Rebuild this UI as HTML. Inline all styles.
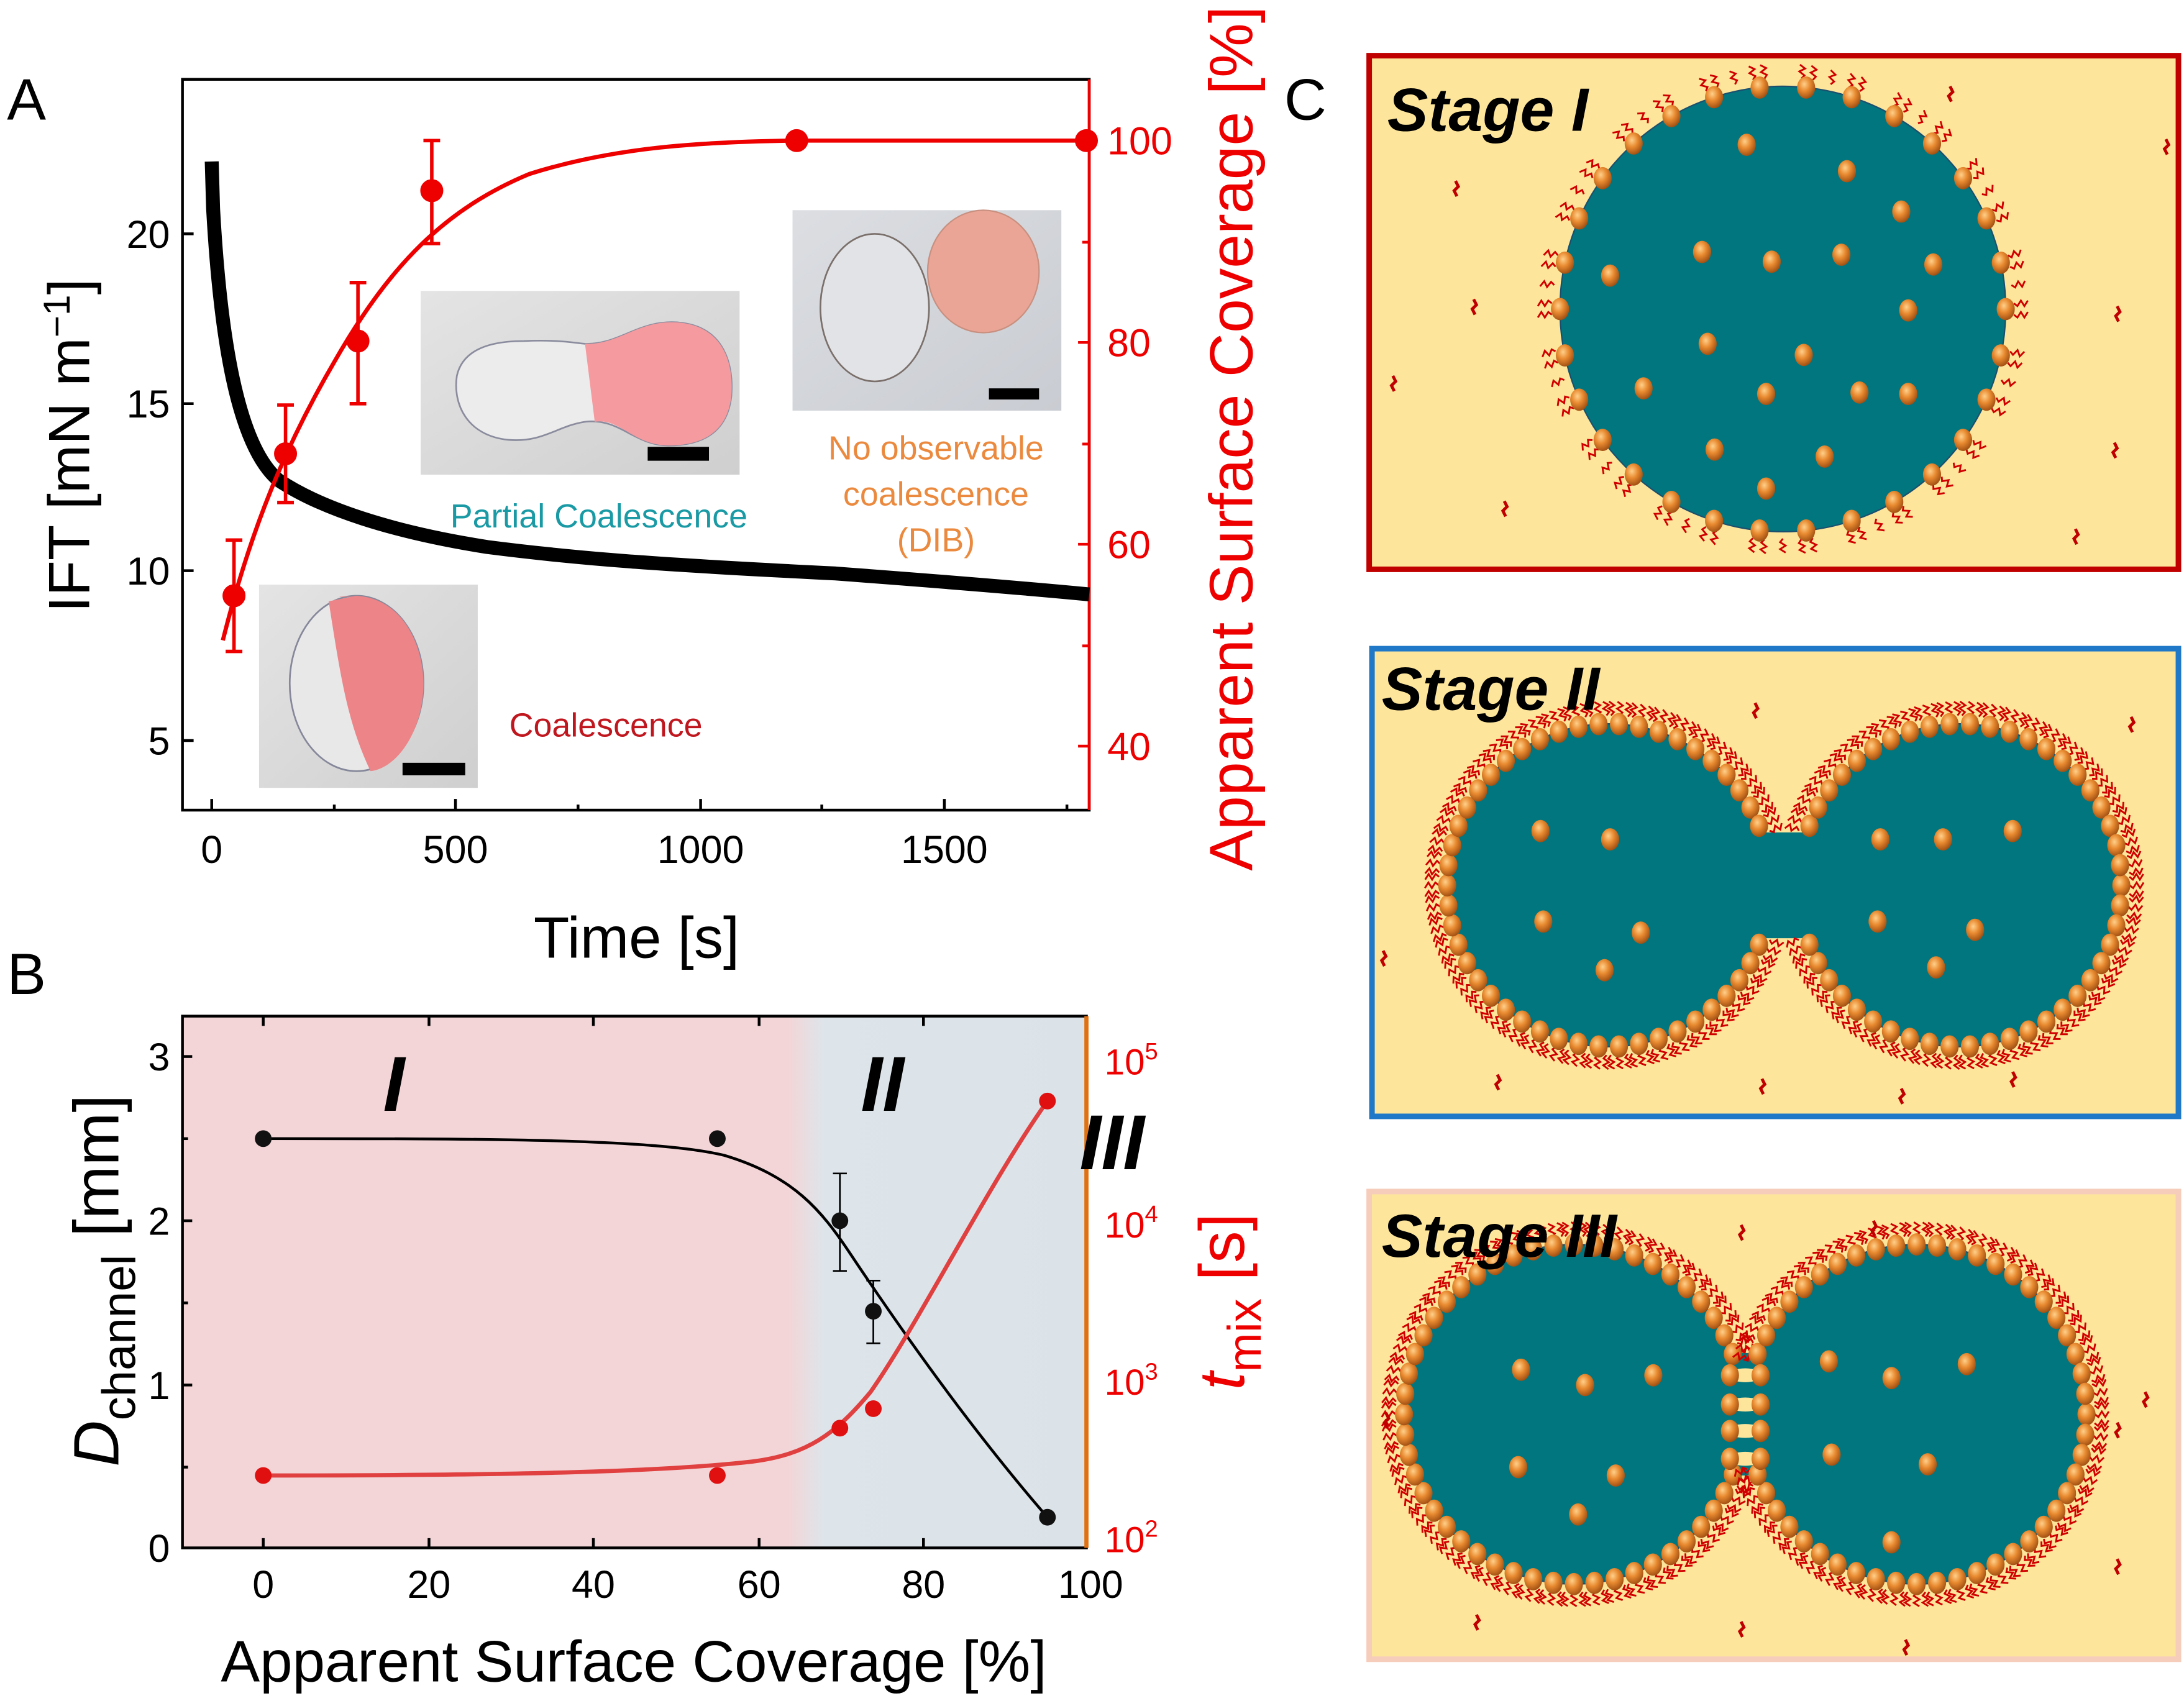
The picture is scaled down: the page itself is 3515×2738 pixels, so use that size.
<!DOCTYPE html>
<html><head><meta charset="utf-8"><style>
html,body{margin:0;padding:0;background:#fff}
svg{display:block}
text{font-family:"Liberation Sans",sans-serif}
</style></head><body>
<svg id="s" width="3515" height="2738" viewBox="0 0 1568 1222" preserveAspectRatio="none" xmlns="http://www.w3.org/2000/svg">
<defs>
<radialGradient id="ball" cx="0.4" cy="0.35" r="0.7"><stop offset="0" stop-color="#ffd08a"/><stop offset="0.45" stop-color="#e88a30"/><stop offset="1" stop-color="#9a4a10"/></radialGradient>
<linearGradient id="bgB" x1="0" x2="1" y1="0" y2="0"><stop offset="0" stop-color="#f3d5d7"/><stop offset="0.67" stop-color="#f3d5d7"/><stop offset="0.71" stop-color="#dde5ea"/><stop offset="1" stop-color="#dbe3e9"/></linearGradient>
<linearGradient id="inset" x1="0" x2="1" y1="0" y2="1"><stop offset="0" stop-color="#e4e4e4"/><stop offset="1" stop-color="#cfcfcf"/></linearGradient>
<linearGradient id="inset2" x1="0" x2="1" y1="0" y2="1"><stop offset="0" stop-color="#dcdee2"/><stop offset="1" stop-color="#c9ccd2"/></linearGradient>
</defs>

<!-- Panel A -->
<text x="5" y="86" font-size="42">A</text>
<rect x="131" y="57" width="651" height="525" fill="none" stroke="#000" stroke-width="2"/>
<g stroke="#000" stroke-width="2">
<line x1="131" y1="168" x2="139" y2="168"/><line x1="131" y1="290" x2="139" y2="290"/><line x1="131" y1="410" x2="139" y2="410"/><line x1="131" y1="532" x2="139" y2="532"/>
<line x1="152" y1="582" x2="152" y2="574"/><line x1="327" y1="582" x2="327" y2="574"/><line x1="503" y1="582" x2="503" y2="574"/><line x1="678" y1="582" x2="678" y2="574"/>
<line x1="240" y1="582" x2="240" y2="578"/><line x1="415" y1="582" x2="415" y2="578"/><line x1="590" y1="582" x2="590" y2="578"/><line x1="766" y1="582" x2="766" y2="578"/>
</g>
<g font-size="28" text-anchor="end"><text x="122" y="178">20</text><text x="122" y="300">15</text><text x="122" y="420">10</text><text x="122" y="542">5</text></g>
<g font-size="28" text-anchor="middle"><text x="152" y="620">0</text><text x="327" y="620">500</text><text x="503" y="620">1000</text><text x="678" y="620">1500</text></g>
<text x="457" y="688" font-size="42" text-anchor="middle">Time [s]</text>
<text transform="translate(64,320) rotate(-90)" font-size="42" text-anchor="middle">IFT [mN m<tspan dy="-14" font-size="27">−1</tspan><tspan dy="14">]</tspan></text>
<!-- right axis -->
<line x1="782" y1="57" x2="782" y2="582" stroke="#e00" stroke-width="2"/>
<g stroke="#e00" stroke-width="2"><line x1="782" y1="101" x2="774" y2="101"/><line x1="782" y1="246" x2="774" y2="246"/><line x1="782" y1="391" x2="774" y2="391"/><line x1="782" y1="536" x2="774" y2="536"/>
<line x1="782" y1="174" x2="777" y2="174"/><line x1="782" y1="319" x2="777" y2="319"/><line x1="782" y1="464" x2="777" y2="464"/></g>
<g font-size="28" fill="#e00"><text x="795" y="111">100</text><text x="795" y="256">80</text><text x="795" y="401">60</text><text x="795" y="546">40</text></g>
<text transform="translate(899,315) rotate(-90)" font-size="44" fill="#e00" text-anchor="middle">Apparent Surface Coverage [%]</text>

<!-- insets -->
<rect x="302" y="209" width="229" height="132" fill="url(#inset)"/>
<path d="M376,245 C400,244 410,246 420,247 C445,248 460,228 490,232 C520,236 527,262 525,285 C522,310 505,320 480,320 C455,320 445,300 420,303 C400,306 390,318 365,316 C335,313 325,290 328,270 C332,252 350,245 376,245 Z" fill="#ececec" stroke="#8a8c9e" stroke-width="1.2"/>
<path d="M420,247 C445,248 460,228 490,232 C520,236 527,262 525,285 C522,310 505,320 480,320 C455,320 445,300 427,303 Z" fill="#f59a9e"/>
<rect x="465" y="321" width="44" height="10" fill="#000"/>
<rect x="569" y="151" width="193" height="144" fill="url(#inset2)"/>
<ellipse cx="628" cy="221" rx="39" ry="53" fill="#e2e3e6" stroke="#7a6f6a" stroke-width="1.2"/>
<ellipse cx="706" cy="195" rx="40" ry="44" fill="#eba596" stroke="#c89080" stroke-width="1"/>
<rect x="710" y="279" width="36" height="8" fill="#000"/>
<rect x="186" y="420" width="157" height="146" fill="url(#inset)"/>
<ellipse cx="256" cy="491" rx="48" ry="63" fill="#e8e8e8" stroke="#85879a" stroke-width="1.2"/>
<path d="M256,428 C235,430 245,428 256,428 C290,430 304,465 304,491 C304,525 285,552 266,554 C250,520 245,490 236,432 Z" fill="#ec8488"/>
<rect x="289" y="548" width="45" height="9" fill="#000"/>

<text x="430" y="379" font-size="24" fill="#1a9aa5" text-anchor="middle">Partial Coalescence</text>
<g font-size="24" fill="#eb8a3e" text-anchor="middle"><text x="672" y="330">No observable</text><text x="672" y="363">coalescence</text><text x="672" y="396">(DIB)</text></g>
<text x="435" y="529" font-size="24" fill="#c0171f" text-anchor="middle">Coalescence</text>

<!-- IFT curve -->
<path d="M152,116 L153,150 C158,240 170,320 200,345 C230,365 280,382 350,393 C420,402 480,406 600,412 C680,418 730,422 782,427" fill="none" stroke="#000" stroke-width="10"/>
<!-- red curve -->
<path d="M160,460 C180,380 205,320 240,260 C280,190 320,150 380,125 C440,106 500,102 570,101 L782,101" fill="none" stroke="#e00" stroke-width="3"/>
<g stroke="#e00" stroke-width="2.5" fill="#e00">
<line x1="168" y1="388" x2="168" y2="468"/><line x1="162" y1="388" x2="174" y2="388"/><line x1="162" y1="468" x2="174" y2="468"/><circle cx="168" cy="428" r="7"/>
<line x1="205" y1="291" x2="205" y2="361"/><line x1="199" y1="291" x2="211" y2="291"/><line x1="199" y1="361" x2="211" y2="361"/><circle cx="205" cy="326" r="7"/>
<line x1="257" y1="203" x2="257" y2="290"/><line x1="251" y1="203" x2="263" y2="203"/><line x1="251" y1="290" x2="263" y2="290"/><circle cx="257" cy="245" r="7"/>
<line x1="310" y1="101" x2="310" y2="175"/><line x1="304" y1="101" x2="316" y2="101"/><line x1="304" y1="175" x2="316" y2="175"/><circle cx="310" cy="137" r="7"/>
<circle cx="572" cy="101" r="7"/><circle cx="780" cy="101" r="7"/>
</g>

<!-- Panel B -->
<text x="5" y="714" font-size="42">B</text>
<rect x="131" y="730" width="649" height="382" fill="url(#bgB)"/>
<rect x="131" y="730" width="649" height="382" fill="none" stroke="#000" stroke-width="2"/>
<line x1="780" y1="730" x2="780" y2="1112" stroke="#e07010" stroke-width="3"/>
<g stroke="#000" stroke-width="2">
<line x1="131" y1="759" x2="138" y2="759"/><line x1="131" y1="877" x2="138" y2="877"/><line x1="131" y1="995" x2="138" y2="995"/>
<line x1="131" y1="818" x2="135" y2="818"/><line x1="131" y1="936" x2="135" y2="936"/><line x1="131" y1="1054" x2="135" y2="1054"/>
<line x1="189" y1="1112" x2="189" y2="1105"/><line x1="308" y1="1112" x2="308" y2="1105"/><line x1="426" y1="1112" x2="426" y2="1105"/><line x1="545" y1="1112" x2="545" y2="1105"/><line x1="663" y1="1112" x2="663" y2="1105"/>
<line x1="189" y1="730" x2="189" y2="737"/><line x1="308" y1="730" x2="308" y2="737"/><line x1="426" y1="730" x2="426" y2="737"/><line x1="545" y1="730" x2="545" y2="737"/><line x1="663" y1="730" x2="663" y2="737"/>
</g>
<g font-size="28" text-anchor="end"><text x="122" y="769">3</text><text x="122" y="887">2</text><text x="122" y="1005">1</text><text x="122" y="1122">0</text></g>
<g font-size="28" text-anchor="middle"><text x="189" y="1148">0</text><text x="308" y="1148">20</text><text x="426" y="1148">40</text><text x="545" y="1148">60</text><text x="663" y="1148">80</text><text x="783" y="1148">100</text></g>
<text x="455" y="1208" font-size="42" text-anchor="middle">Apparent Surface Coverage [%]</text>
<text transform="translate(85,920) rotate(-90)" font-size="46" text-anchor="middle"><tspan font-style="italic">D</tspan><tspan font-size="34" dy="12">channel</tspan><tspan dy="-12"> [mm]</tspan></text>
<g font-size="26" fill="#e00"><text x="793" y="772">10<tspan dy="-11" font-size="17">5</tspan></text><text x="793" y="889">10<tspan dy="-11" font-size="17">4</tspan></text><text x="793" y="1002">10<tspan dy="-11" font-size="17">3</tspan></text><text x="793" y="1115">10<tspan dy="-11" font-size="17">2</tspan></text></g>
<text transform="translate(893,935) rotate(-90)" font-size="46" fill="#e00" text-anchor="middle"><tspan font-style="italic">t</tspan><tspan font-size="34" dy="12">mix</tspan><tspan dy="-12"> [s]</tspan></text>
<g font-size="56" font-weight="bold" font-style="italic"><text x="275" y="798">I</text><text x="618" y="798">II</text><text x="775" y="840">III</text></g>
<path d="M189,818 C350,818 470,818 520,830 C570,845 590,870 610,900 C650,960 700,1030 752,1090" fill="none" stroke="#000" stroke-width="2"/>
<path d="M189,1060 C350,1060 470,1058 540,1050 C580,1045 600,1030 625,1000 C660,950 710,850 752,791" fill="none" stroke="#e04040" stroke-width="3"/>
<g stroke="#000" stroke-width="1.2"><line x1="603" y1="843" x2="603" y2="913"/><line x1="598" y1="843" x2="608" y2="843"/><line x1="598" y1="913" x2="608" y2="913"/><line x1="627" y1="920" x2="627" y2="965"/><line x1="622" y1="920" x2="632" y2="920"/><line x1="622" y1="965" x2="632" y2="965"/></g>
<g fill="#111"><circle cx="189" cy="818" r="6"/><circle cx="515" cy="818" r="6"/><circle cx="603" cy="877" r="6"/><circle cx="627" cy="942" r="6"/><circle cx="752" cy="1090" r="6"/></g>
<g fill="#e01010"><circle cx="189" cy="1060" r="6"/><circle cx="515" cy="1060" r="6"/><circle cx="603" cy="1026" r="6"/><circle cx="627" cy="1012" r="6"/><circle cx="752" cy="791" r="6"/></g>

<!-- Panel C -->
<text x="922" y="86" font-size="42">C</text>
<rect x="983" y="40" width="581" height="369" fill="#fde69c" stroke="#c00000" stroke-width="4"/>
<rect x="985" y="466" width="579" height="336" fill="#fde69c" stroke="#1f78c8" stroke-width="4"/>
<rect x="983" y="856" width="581" height="336" fill="#fde69c" stroke="#f6cdbb" stroke-width="4"/>
<g id="cart"></g>
<g font-size="44" font-weight="bold" font-style="italic"><text x="996" y="94">Stage I</text><text x="992" y="510">Stage II</text><text x="992" y="903">Stage III</text></g>
</svg>
<script>
(function(){
var g=document.getElementById('cart'),h='';
function circ(cx,cy,r){h+='<circle cx="'+cx+'" cy="'+cy+'" r="'+r+'" fill="#02767f" stroke="#1b4f6e" stroke-width="1"/>';}
function ball(x,y){h+='<ellipse cx="'+x.toFixed(1)+'" cy="'+y.toFixed(1)+'" rx="6.5" ry="8" fill="url(#ball)"/>';}
function sq(x,y,a){var c=Math.cos(a),s=Math.sin(a),px=-s,py=c,d='M'+x.toFixed(1)+','+y.toFixed(1);
 for(var i=1;i<=4;i++){var t=i*2.5,o=(i%2?2:-2);d+=' L'+(x+c*t+px*o).toFixed(1)+','+(y+s*t+py*o).toFixed(1);}
 h+='<path d="'+d+'" fill="none" stroke="#d00000" stroke-width="1.3"/>';}
function free(x,y){h+='<path d="M'+x+','+y+' l2,4 l-3,3 l2,4" fill="none" stroke="#c00000" stroke-width="2.2"/>';}
function ring(cx,cy,r,n,skip,ns){ns=ns||3;for(var i=0;i<n;i++){var a=i/n*2*Math.PI;var x=cx+r*Math.cos(a),y=cy+r*Math.sin(a);if(skip&&skip(x,y))continue;
 for(var k=0;k<ns;k++){var aa=a+(k-(ns-1)/2)*0.05;sq(cx+(r+6)*Math.cos(aa),cy+(r+6)*Math.sin(aa),a);}ball(x,y);}}
// Stage I
circ(1280,222,160);
ring(1280,222,160,30,null,2);
for(var i=0;i<30;i++){var a=(i+0.5)/30*2*Math.PI;if(i%2)sq(1280+165*Math.cos(a),222+165*Math.sin(a),a);}
[[1254,104],[1326,123],[1365,152],[1222,181],[1272,188],[1322,183],[1388,190],[1156,198],[1370,223],[1226,247],[1295,255],[1180,279],[1268,283],[1335,282],[1370,283],[1231,323],[1310,328],[1268,351]].forEach(function(p){ball(p[0],p[1]);});
[[1045,130],[1058,215],[1000,270],[1080,360],[1520,220],[1518,318],[1555,100],[1400,62],[1490,380]].forEach(function(p){free(p[0],p[1]);});
// Stage II
circ(1155,636,116);circ(1407,636,116);h+='<rect x="1248" y="598" width="66" height="76" fill="#02767f"/>';
ring(1155,636,116,50,function(x,y){return x>1255&&Math.abs(y-636)<40;});
ring(1407,636,116,50,function(x,y){return x<1305&&Math.abs(y-636)<40;});
[[1106,597],[1156,603],[1108,662],[1178,670],[1152,697],[1350,603],[1395,603],[1445,597],[1348,662],[1418,668],[1390,695]].forEach(function(p){ball(p[0],p[1]);});
[[993,683],[1075,772],[1265,775],[1365,782],[1445,770],[1530,515],[1260,505]].forEach(function(p){free(p[0],p[1]);});
// Stage III
circ(1130,1016,122);circ(1376,1016,122);
h+='<rect x="1236" y="972" width="34" height="88" fill="#02767f"/>';
h+='<ellipse cx="1253" cy="1009" rx="13" ry="5" fill="#fde69c"/><ellipse cx="1253" cy="1028" rx="13" ry="5" fill="#fde69c"/><ellipse cx="1253" cy="988" rx="12" ry="5" fill="#fde69c"/><ellipse cx="1253" cy="1048" rx="12" ry="5" fill="#fde69c"/>';
ring(1130,1016,122,52,function(x,y){return x>1235&&Math.abs(y-1016)<35;});
ring(1376,1016,122,52,function(x,y){return x<1270&&Math.abs(y-1016)<35;});
[[1242,988],[1264,988],[1242,1009],[1264,1009],[1242,1028],[1264,1028],[1242,1048],[1264,1048]].forEach(function(p){ball(p[0],p[1]);});
[[1092,984],[1138,995],[1187,988],[1090,1054],[1160,1060],[1133,1088],[1313,978],[1358,990],[1412,980],[1315,1045],[1384,1052],[1358,1108]].forEach(function(p){ball(p[0],p[1]);});
[[995,1015],[1060,1160],[1250,1165],[1368,1178],[1520,1120],[1520,1022],[1540,1000],[1250,880],[1345,877]].forEach(function(p){free(p[0],p[1]);});
g.innerHTML=h;
})();
</script>
</body></html>
